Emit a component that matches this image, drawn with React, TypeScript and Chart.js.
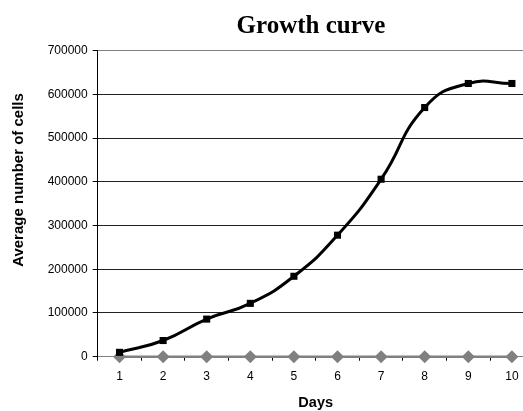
import React, { useEffect, useRef } from "react";
import { Chart, registerables } from "chart.js";

Chart.register(...registerables);

const days = ["1", "2", "3", "4", "5", "6", "7", "8", "9", "10"];
const averageCells = [10000, 37000, 86000, 122000, 184000, 278000, 406000, 570000, 625000, 625000];
const baseline = [0, 0, 0, 0, 0, 0, 0, 0, 0, 0];
const yTicks = [0, 100000, 200000, 300000, 400000, 500000, 600000, 700000];

const titleText = "Growth curve";
const xTitle = "Days";
const yTitle = "Average number of cells";

const yTitlePlugin = {
  id: "yTitlePlugin",
  afterDraw(chart: any) {
    const ctx = chart.ctx;
    ctx.save();
    ctx.translate(19, 180);
    ctx.rotate(-Math.PI / 2);
    ctx.font = "bold 15px 'Liberation Sans', Arial, sans-serif";
    ctx.fillStyle = "#000";
    ctx.textAlign = "center";
    ctx.textBaseline = "middle";
    ctx.fillText(yTitle, 0, 0);
    ctx.restore();
  },
};

export default function App() {
  const ref = useRef<HTMLCanvasElement | null>(null);
  useEffect(() => {
    if (!ref.current) return;
    const chart = new Chart(ref.current, {
      type: "line",
      data: {
        labels: days,
        datasets: [
          {
            label: "Average",
            data: averageCells,
            borderColor: "#000",
            backgroundColor: "#000",
            borderWidth: 3,
            pointStyle: "rect",
            pointRadius: 5,
            pointBorderWidth: 0,
            tension: 0.5,
            clip: false,
          },
          {
            label: "baseline",
            data: baseline,
            borderColor: "#808080",
            backgroundColor: "#808080",
            borderWidth: 2.5,
            pointStyle: "rectRot",
            pointRadius: 6.5,
            pointBorderWidth: 0,
            tension: 0,
            clip: false,
          },
        ],
      },
      options: {
        responsive: false,
        animation: false,
        layout: { padding: 0 },
        plugins: {
          legend: { display: false },
          tooltip: { enabled: false },
          title: {
            display: true,
            text: titleText,
            color: "#000",
            font: { family: "'Liberation Serif', 'Times New Roman', serif", size: 25, weight: "bold" },
            padding: { top: 12, bottom: 8.7 },
          },
        },
        scales: {
          x: {
            offset: true,
            grid: {
              offset: true,
              drawOnChartArea: false,
              drawTicks: true,
              tickLength: 4,
              tickColor: "#000",
            },
            border: { color: "#808080", width: 1 },
            ticks: {
              color: "#000",
              padding: 9,
              maxRotation: 0,
              font: { family: "'Liberation Sans', Arial, sans-serif", size: 12 },
            },
            title: {
              display: true,
              text: xTitle,
              color: "#000",
              font: { family: "'Liberation Sans', Arial, sans-serif", size: 14.5, weight: "bold", lineHeight: 1.1 },
              padding: { top: 0, bottom: 0 },
            },
            afterFit(scale: any) {
              scale.height = 54.3;
            },
          },
          y: {
            min: 0,
            max: 700000,
            afterBuildTicks(scale: any) {
              scale.ticks = yTicks.map((v) => ({ value: v }));
            },
            grid: {
              color: (c: any) => (c.tick && c.tick.value === 700000 ? "#808080" : "#222"),
              tickColor: "#000",
              tickLength: 5,
              lineWidth: 1,
            },
            border: { color: "#000", width: 1 },
            ticks: {
              color: "#000",
              padding: 5,
              font: { family: "'Liberation Sans', Arial, sans-serif", size: 12 },
              callback: (v: any) => String(v),
            },
            afterFit(scale: any) {
              scale.width = 97.7;
            },
          },
          spacer: {
            position: "right",
            axis: "y",
            display: true,
            grid: { drawOnChartArea: false, drawTicks: false },
            border: { display: false },
            ticks: { display: false },
            afterFit(scale: any) {
              scale.width = 88.3;
            },
          },
        },
      },
      plugins: [yTitlePlugin],
    });
    return () => chart.destroy();
  }, []);
  return (
    <div style={{ position: "fixed", left: 0, top: 0, width: 523, height: 411, overflow: "hidden", background: "#fff" }}>
      <canvas ref={ref} width={622} height={411} style={{ display: "block" }} />
    </div>
  );
}
